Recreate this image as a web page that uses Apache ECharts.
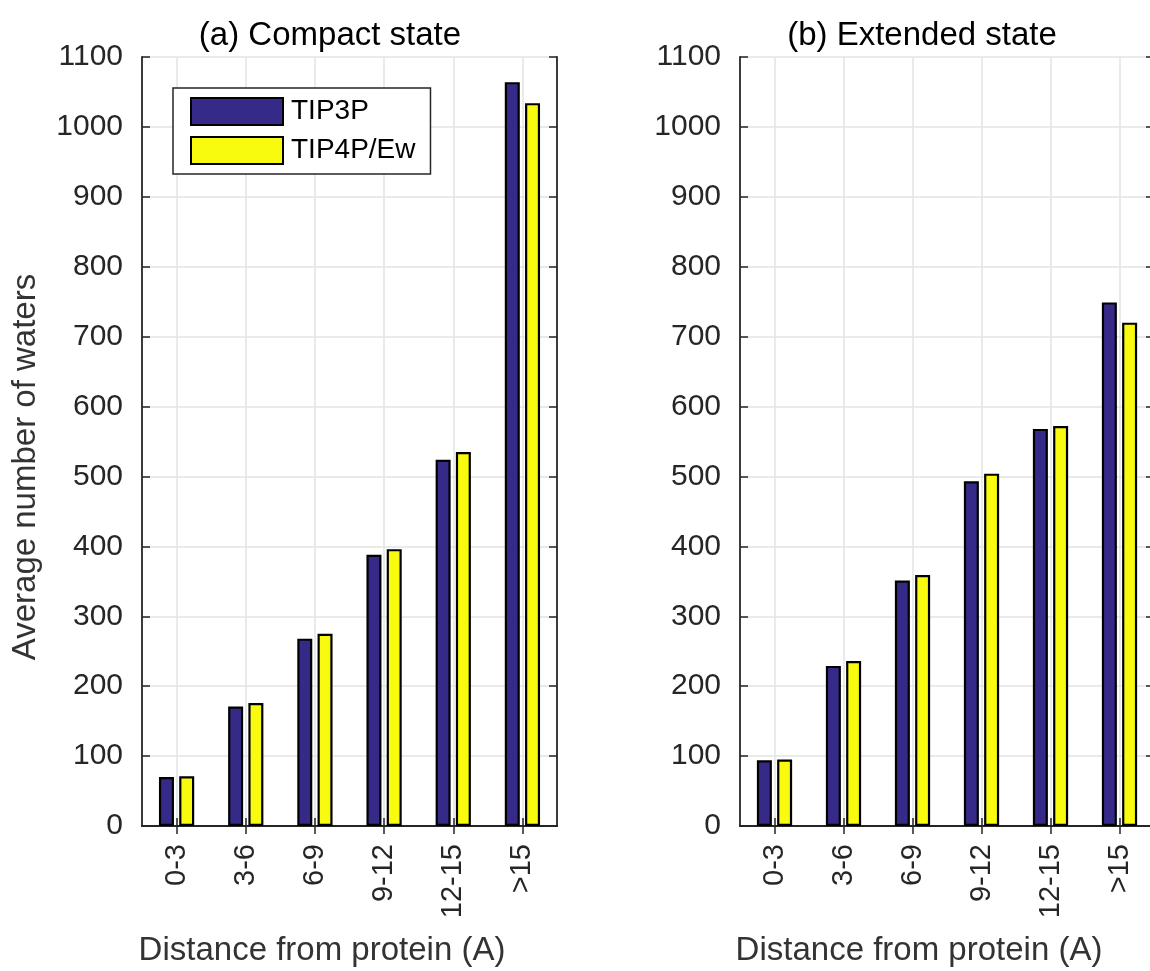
<!DOCTYPE html>
<html><head><meta charset="utf-8">
<script src="https://cdn.jsdelivr.net/npm/echarts@6/dist/echarts.min.js"></script>
<style>html,body{margin:0;padding:0;background:#fff}#c{width:1150px;height:971px}</style>
</head><body><div id="c"></div>
<script>
const categories = ['0-3', '3-6', '6-9', '9-12', '12-15', '>15'];
const seriesNames = ['TIP3P', 'TIP4P/Ew'];
const compactTIP3P = [70, 171, 268, 388, 524, 1064];
const compactTIP4P = [71, 176, 275, 396, 535, 1034];
const extendedTIP3P = [94, 229, 351, 493, 568, 749];
const extendedTIP4P = [95, 236, 359, 504, 572, 720];
const panelTitles = ['(a) Compact state', '(b) Extended state'];
const xAxisName = 'Distance from protein (A)';
const yAxisName = 'Average number of waters';
const yMin = 0, yMax = 1100, yStep = 100;

const FONT = '"Liberation Sans", Arial, Helvetica, sans-serif';
const AX = '#262626';
const GRIDC = '#e3e3e3';
const COLORS = ['#352a87', '#f9fb0e'];
const panels = [[compactTIP3P, compactTIP4P], [extendedTIP3P, extendedTIP4P]];
const grids = [
  {left: 142, top: 57, width: 415, height: 769, containLabel: false, outerBoundsMode: 'none'},
  {left: 740, top: 57, width: 414, height: 769, containLabel: false, outerBoundsMode: 'none'}
];

const xAxes = [], yAxes = [], series = [];
grids.forEach((g, i) => {
  const lineS = {color: AX, width: 1.8};
  const tickS = {show: true, inside: true, alignWithLabel: true, length: 8, interval: 0, lineStyle: {color: AX, width: 1.5}};
  xAxes.push({type: 'category', gridIndex: i, position: 'bottom', data: categories, boundaryGap: true,
    axisLine: {show: true, lineStyle: lineS}, axisTick: tickS,
    axisLabel: {rotate: 90, margin: 18, fontSize: 29, fontFamily: FONT, color: AX, interval: 0},
    splitLine: {show: true, alignWithLabel: true, interval: 0, lineStyle: {color: GRIDC, width: 1.5}}});
  xAxes.push({type: 'category', gridIndex: i, position: 'top', data: categories, boundaryGap: true,
    axisLine: {show: true, lineStyle: lineS}, axisTick: tickS,
    axisLabel: {show: false}, splitLine: {show: false}});
  yAxes.push({type: 'value', gridIndex: i, position: 'left', min: yMin, max: yMax, interval: yStep,
    axisLine: {show: true, lineStyle: lineS},
    axisTick: {show: true, inside: true, length: 8, lineStyle: {color: AX, width: 1.5}},
    axisLabel: {margin: 19, fontSize: 30, fontFamily: FONT, color: AX, formatter: v => String(v)},
    splitLine: {show: true, lineStyle: {color: GRIDC, width: 1.5}}});
  yAxes.push({type: 'value', gridIndex: i, position: 'right', min: yMin, max: yMax, interval: yStep,
    axisLine: {show: true, lineStyle: lineS},
    axisTick: {show: true, inside: true, length: 8, lineStyle: {color: AX, width: 1.5}},
    axisLabel: {show: false}, splitLine: {show: false}});
  panels[i].forEach((vals, k) => {
    series.push({type: 'bar', name: seriesNames[k], xAxisIndex: 2 * i, yAxisIndex: 2 * i, data: vals,
      barWidth: 15, barGap: '35%',
      itemStyle: {color: COLORS[k], borderColor: '#000', borderWidth: 2.2},
      emphasis: {disabled: true}, animation: false});
  });
});

const txt = (text, x, y, size, color, rot) => ({type: 'text', x: x, y: y, rotation: rot || 0, silent: true,
  style: {text: text, fontSize: size, fontFamily: FONT, fill: color, align: 'center', verticalAlign: 'middle'}});

const chart = echarts.init(document.getElementById('c'), null, {renderer: 'canvas'});
chart.setOption({
  animation: false,
  backgroundColor: '#fff',
  grid: grids,
  xAxis: xAxes,
  yAxis: yAxes,
  series: series,
  legend: {data: seriesNames, left: 173, top: 88, orient: 'vertical', icon: 'rect',
    itemWidth: 92, itemHeight: 27, itemGap: 10, padding: [9, 15, 9, 17],
    borderColor: AX, borderWidth: 1.5, backgroundColor: '#fff', selectedMode: false,
    itemStyle: {borderColor: '#000', borderWidth: 2},
    textStyle: {fontSize: 28, fontFamily: FONT, color: '#000', padding: [0, 0, 0, 3]}},
  graphic: [
    txt(panelTitles[0], 330, 36, 33, '#000'),
    txt(panelTitles[1], 922, 36, 33, '#000'),
    txt(xAxisName, 322, 951, 33, '#333'),
    txt(xAxisName, 919, 951, 33, '#333'),
    txt(yAxisName, 26, 467, 33, '#333', Math.PI / 2)
  ]
});
</script>
</body></html>
